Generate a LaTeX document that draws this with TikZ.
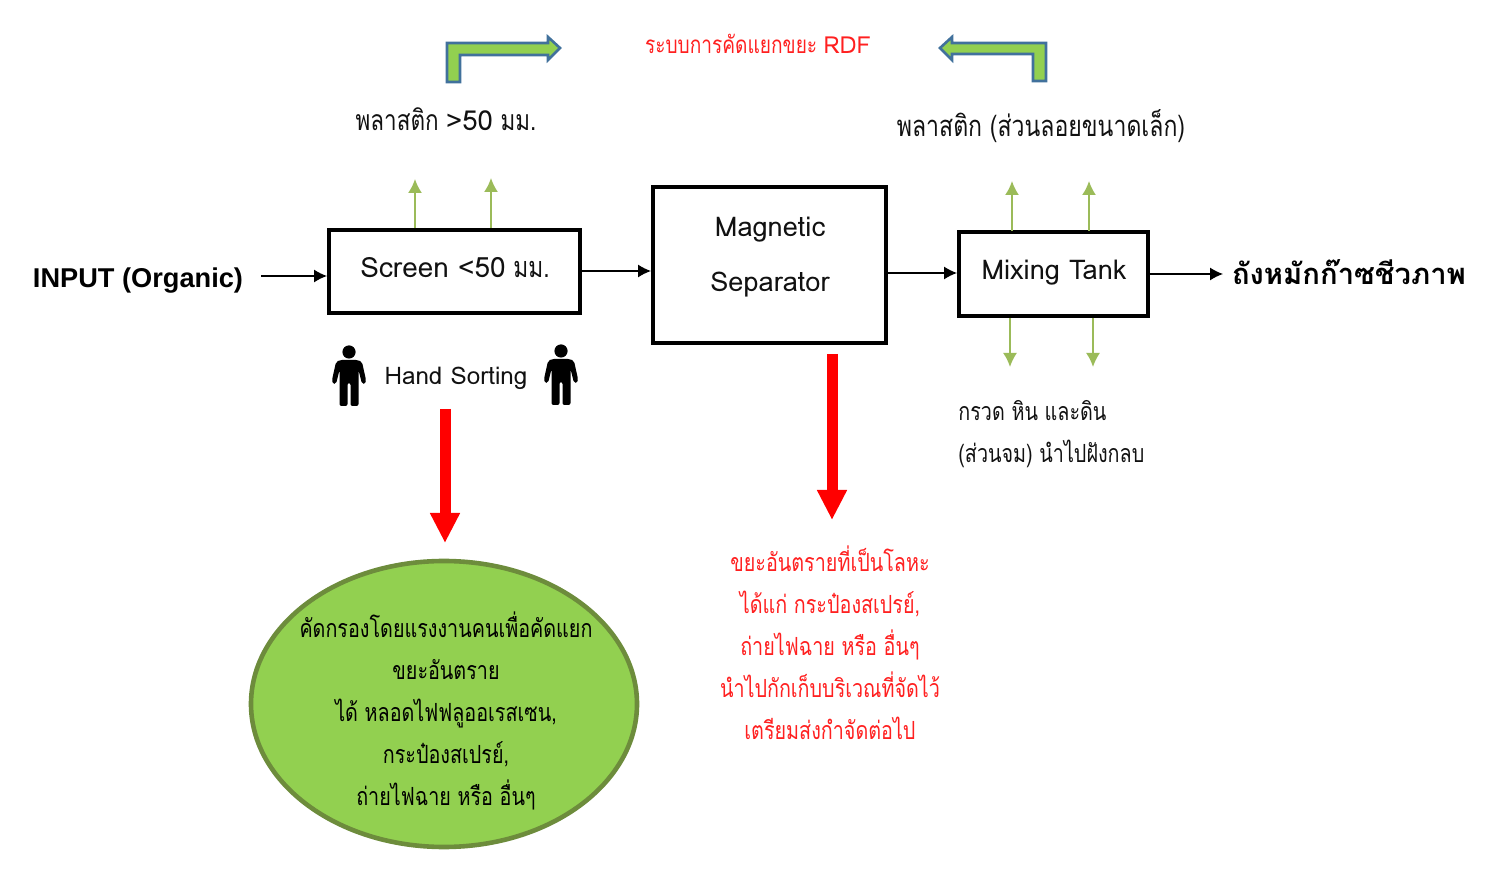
\documentclass[tikz,border=0pt]{standalone}
\usepackage{fontspec}
\setmainfont[Script=Thai,FakeStretch=0.79]{Loma}
\newfontfamily\latfont{Loma}[Scale=0.97]
\newcommand{\lat}[1]{{\latfont #1}}
\newfontfamily\tankfont[Script=Thai]{Loma}
\newfontfamily\arialb{Liberation Sans}
\usetikzlibrary{arrows.meta,shapes.geometric}
\definecolor{lgreen}{HTML}{92D050}
\definecolor{dgreen}{HTML}{6D8C3C}
\definecolor{sgreen}{HTML}{9BBB59}
\definecolor{sblue}{HTML}{41719C}
\definecolor{tred}{HTML}{FF2020}
\definecolor{tblack}{HTML}{111111}
\tikzset{
  x=0.5pt,y=-0.5pt,
  procbox/.style={draw=black,line width=2pt,fill=white,inner sep=0pt,anchor=north west},
  txt/.style={font=\fontsize{12.5}{21}\selectfont,text=tblack,inner sep=0pt,align=center},
  bigtxt/.style={txt,font=\fontsize{14.6}{21}\selectfont},
  redtxt/.style={txt,text=tred},
  flow/.style={draw=black,line width=0.6pt,-{Latex[length=6.5pt,width=6.5pt]}},
  greenflow/.style={draw=sgreen,line width=0.9pt,-{Latex[length=7pt,width=7pt]}},
  redflow/.style={draw=red,line width=5.5pt,-{Triangle[length=15pt,width=14pt]}},
  bent/.style={draw=sblue,line width=1.3pt,fill=lgreen,line join=miter},
  person/.pic={
    \fill[black] (0,7) circle (6.6);
    \fill[black,rounded corners=1] (-9,15) -- (9,15) -- (13,17) -- (17,35) -- (16.5,39) -- (13,39) -- (9.5,25) -- (9.5,61) -- (1.5,61) -- (1.5,38) -- (-1.5,38) -- (-1.5,61) -- (-9.5,61) -- (-9.5,25) -- (-13,39) -- (-16.5,39) -- (-17,35) -- (-13,17) -- cycle;
  }
}
\begin{document}
\begin{tikzpicture}
\useasboundingbox (0,0) rectangle (1494,892);
% boxes
\node[procbox,minimum width=125.5pt,minimum height=41.5pt] (screen) at (327,228) {};
\node[font=\fontsize{14.4}{21}\selectfont,text=tblack,inner sep=0pt] (screenT) at (455,268) {\lat{Screen <50} มม.};
\node[procbox,minimum width=116.5pt,minimum height=78pt] (mag) at (651,185) {};
\node[txt,font=\latfont\fontsize{14}{27.5}\selectfont] (magT) at (770,257.5) {Magnetic\\Separator};
\node[procbox,minimum width=94.5pt,minimum height=42pt] (mix) at (957,230) {};
\node[txt,font=\latfont\fontsize{14}{21}\selectfont] (mixT) at (1054,273) {Mixing Tank};
% texts
\node[font=\arialb\bfseries\fontsize{13.6}{16}\selectfont,inner sep=0pt] (input) at (138,281) {INPUT (Organic)};
\node[font=\tankfont\bfseries\fontsize{14.6}{21}\selectfont,inner sep=0pt,text=black] (tank) at (1349,272) {ถังหมักก๊าซชีวภาพ};
\node[redtxt,font=\fontsize{12.1}{21}\selectfont] (rdf) at (758,44) {ระบบการคัดแยกขยะ \lat{RDF}};
\node[bigtxt,font=\fontsize{14.2}{21}\selectfont] (plastic) at (446,119) {พลาสติก \lat{>50} มม.};
\node[bigtxt] (plastic2) at (1041,126) {พลาสติก (ส่วนลอยขนาดเล็ก)};
\node[txt,font=\latfont\fontsize{12.5}{21}\selectfont] (hand) at (456,378) {Hand Sorting};
\node[txt,align=left,anchor=west] (gravel) at (958,434) {กรวด หิน และดิน\\(ส่วนจม) นำไปฝังกลบ};
\node[redtxt] (metal) at (830,643) {ขยะอันตรายที่เป็นโลหะ\\ได้แก่ กระป๋องสเปรย์,\\ถ่ายไฟฉาย หรือ อื่นๆ\\นำไปกักเก็บบริเวณที่จัดไว้\\เตรียมส่งกำจัดต่อไป};
% ellipse
\node[draw=dgreen,line width=2.3pt,fill=lgreen,ellipse,minimum width=193pt,minimum height=143pt,inner sep=0pt] (oval) at (444,704) {};
\node[txt,text=black] (ovalT) at (446,711) {คัดกรองโดยแรงงานคนเพื่อคัดแยก\\ขยะอันตราย\\ได้ หลอดไฟฟลูออเรสเซน,\\กระป๋องสเปรย์,\\ถ่ายไฟฉาย หรือ อื่นๆ};
% people
\pic at (349,345) {person};
\pic at (561,344) {person};
% bent arrows
\draw[bent] (447,82) -- (447,43) -- (548,43) -- (548,37) -- (560,48) -- (548,60) -- (548,55) -- (460,55) -- (460,82) -- cycle;
\draw[bent] (1046,81) -- (1046,43) -- (952,43) -- (952,37) -- (940,48) -- (952,60) -- (952,54) -- (1033,54) -- (1033,81) -- cycle;
% free ends
\coordinate (inS) at (261,276);
\coordinate (g1a) at (415,228); \coordinate (g1b) at (415,179);
\coordinate (g2a) at (491,228); \coordinate (g2b) at (491,178);
\coordinate (g3a) at (1012,231); \coordinate (g3b) at (1012,181);
\coordinate (g4a) at (1089,231); \coordinate (g4b) at (1089,181);
\coordinate (g5a) at (1010,318); \coordinate (g5b) at (1010,367);
\coordinate (g6a) at (1093,318); \coordinate (g6b) at (1093,367);
\coordinate (r1a) at (445,409); \coordinate (r1b) at (445,543);
\coordinate (r2a) at (832,354); \coordinate (r2b) at (832,520);
\coordinate (outE) at (1223,274);
% connectors
\draw[flow] (inS) -- (inS -| screen.west);
\draw[flow] (screen.east |- 0,271) -- (mag.west |- 0,271);
\draw[flow] (mag.east |- 0,273) -- (mix.west |- 0,273);
\draw[flow] (mix.east |- 0,274) -- (outE);
\draw[greenflow] (g1a) -- (g1b);
\draw[greenflow] (g2a) -- (g2b);
\draw[greenflow] (g3a) -- (g3b);
\draw[greenflow] (g4a) -- (g4b);
\draw[greenflow] (g5a) -- (g5b);
\draw[greenflow] (g6a) -- (g6b);
\draw[redflow] (r1a) -- (r1b);
\draw[redflow] (r2a) -- (r2b);
\end{tikzpicture}
\end{document}
